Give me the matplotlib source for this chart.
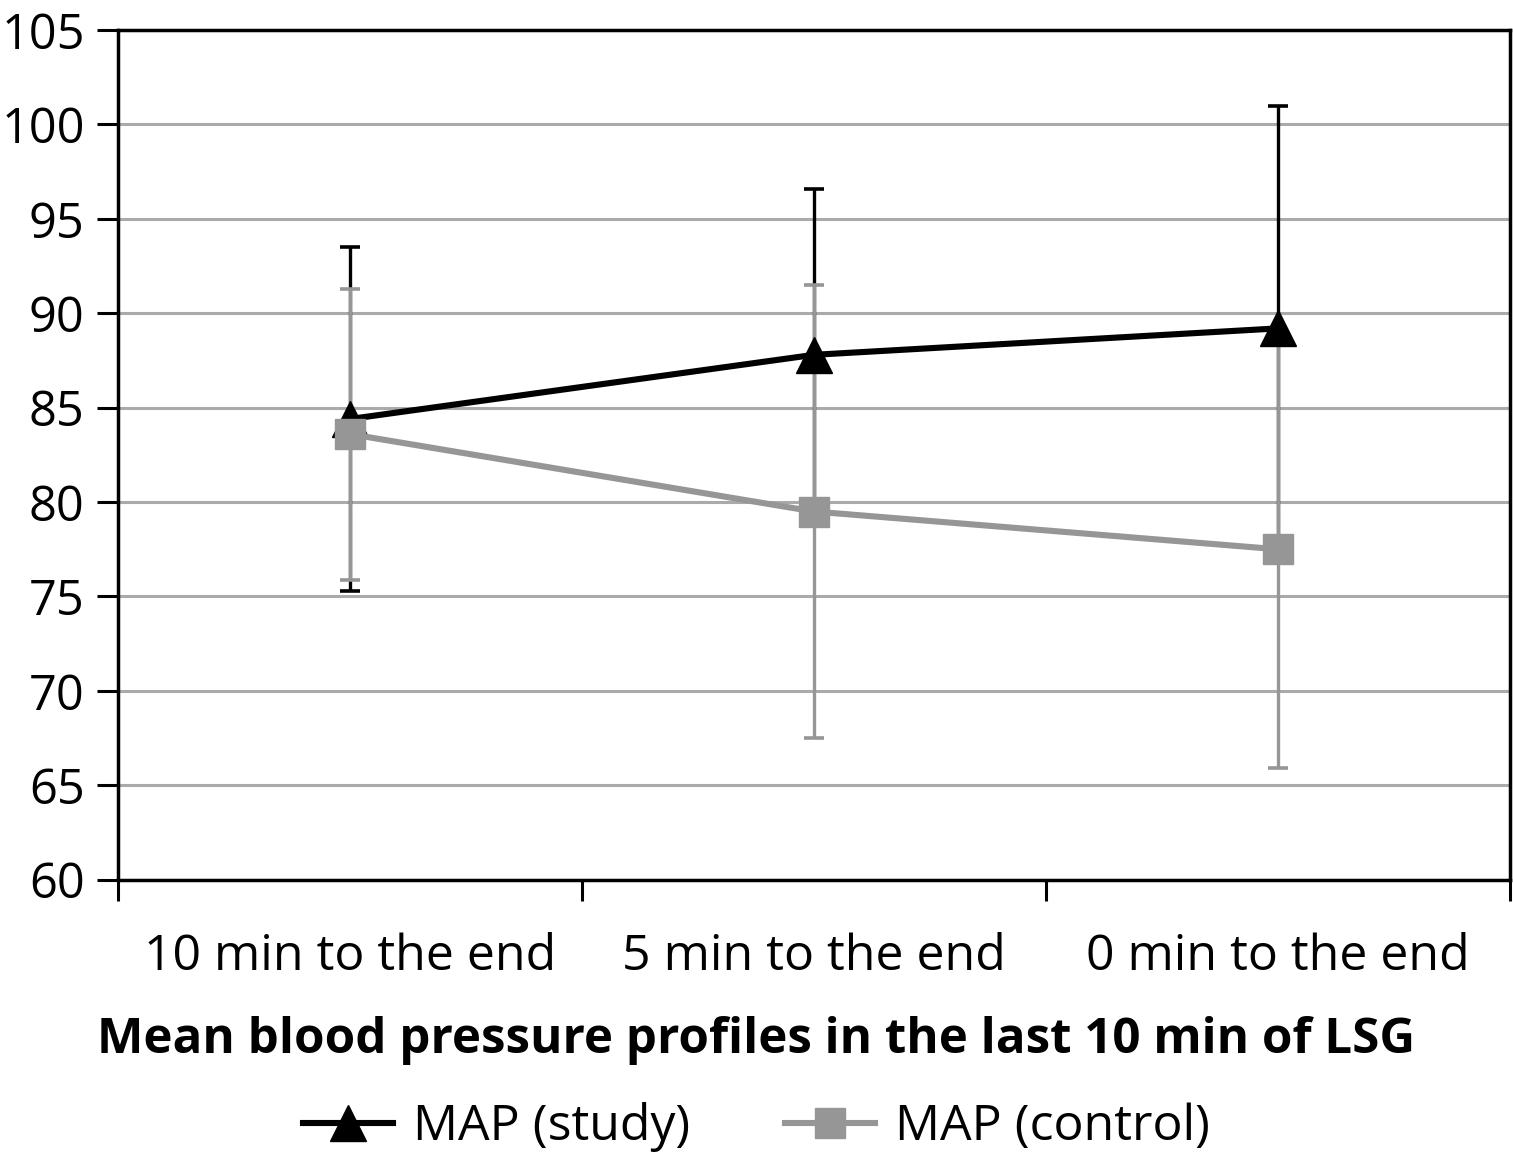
import matplotlib
matplotlib.use("Agg")
import matplotlib.pyplot as plt
from matplotlib.lines import Line2D

plt.rcParams["font.family"] = ["Open Sans", "Noto Sans", "DejaVu Sans"]

categories = ["10 min to the end", "5 min to the end", "0 min to the end"]
study_mean = [84.4, 87.8, 89.2]
study_sd = [9.1, 8.8, 11.8]
control_mean = [83.6, 79.5, 77.5]
control_sd = [7.7, 12.0, 11.6]

BLACK = "#000000"
GRAY = "#969696"
GRID = "#aaaaaa"
FS = 36

fig = plt.figure(figsize=(15.13, 11.56), dpi=100)
ax = fig.add_axes([0.078, 0.239, 0.920, 0.735])

x = list(range(1, len(categories) + 1))

# barres d'erreur d'abord, étude puis contrôle
ax.errorbar(x, study_mean, yerr=study_sd, fmt="none", ecolor=BLACK,
            elinewidth=2.4, capsize=7, capthick=2.6, zorder=3)
ax.errorbar(x, control_mean, yerr=control_sd, fmt="none", ecolor=GRAY,
            elinewidth=2.4, capsize=7, capthick=2.6, zorder=4)

ax.plot(x, study_mean, color=BLACK, linewidth=4.4, marker="^", markersize=26,
        zorder=5, label="MAP (study)")
ax.plot(x, control_mean, color=GRAY, linewidth=4.4, marker="s", markersize=22,
        zorder=6, label="MAP (control)")

ax.set_xlim(0.5, 3.5)
ax.set_ylim(60, 105)
ax.set_yticks(range(60, 106, 5))
ax.set_xticks([0.5, 1.5, 2.5, 3.5])
ax.set_xticklabels([])
ax.set_xticks(x, minor=True)
ax.set_xticklabels(categories, minor=True)
ax.tick_params(axis="x", which="minor", length=0, pad=38, labelsize=FS)
ax.tick_params(axis="x", which="major", length=15, width=2.2, direction="out")
ax.tick_params(axis="y", length=15, width=2.2, direction="out", pad=9, labelsize=35)

ax.yaxis.grid(True, color=GRID, linewidth=2.2)
ax.set_axisbelow(True)
for s in ax.spines.values():
    s.set_color(BLACK)
    s.set_linewidth(2.5)

fig.text(0.5, 0.1, "Mean blood pressure profiles in the last 10 min of LSG",
         ha="center", va="center", fontsize=35.5, fontweight="bold")

handles = [
    Line2D([], [], color=BLACK, linewidth=4.4, marker="^", markersize=26),
    Line2D([], [], color=GRAY, linewidth=4.4, marker="s", markersize=22),
]
fig.legend(handles, ["MAP (study)", "MAP (control)"], loc="center",
           bbox_to_anchor=(0.5, 0.025), ncol=2, frameon=False, fontsize=FS,
           handlelength=1.8, columnspacing=1.9, handletextpad=0.4)

fig.savefig("out.png", dpi=100)
